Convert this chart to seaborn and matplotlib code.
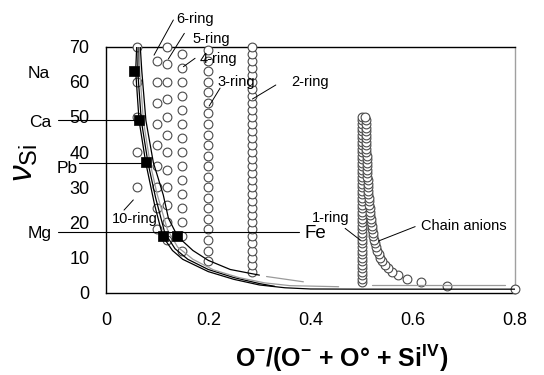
import matplotlib
matplotlib.use("Agg")
import matplotlib.pyplot as plt
import seaborn as sns
import pandas as pd

# ---------------- data ----------------
# ring anion columns: x position and nu_Si values
ring_names = ["1-ring", "2-ring", "3-ring", "4-ring", "5-ring", "6-ring", "10-ring"]
ring_x = [0.5, 0.286, 0.2, 0.149, 0.12, 0.099, 0.061]
ring1_y = [3, 4, 5, 6, 7, 8, 9, 10, 11, 12, 13, 14, 15, 16, 17, 18, 19, 20, 21, 22, 23, 24,
           25, 26, 27, 28, 29, 30, 31, 32, 33, 34, 35, 36, 37, 38, 39, 40, 41, 42, 43, 44,
           45, 46, 47, 48, 49, 50]
ring2_y = [6, 8, 10, 12, 14, 16, 18, 20, 22, 24, 26, 28, 30, 32, 34, 36, 38, 40, 42, 44,
           46, 48, 50, 52, 54, 56, 58, 60, 62, 64, 66, 68, 70]
ring3_y = [9, 12, 15, 18, 21, 24, 27, 30, 33, 36, 39, 42, 45, 48, 51, 54, 57, 60, 63, 66, 69]
ring4_y = [12, 16, 20, 24, 28, 32, 36, 40, 44, 48, 52, 56, 60, 64, 68]
ring5_y = [15, 20, 25, 30, 35, 40, 45, 50, 55, 60, 65, 70]
ring6_y = [18, 24, 30, 36, 42, 48, 54, 60, 66]
ring10_y = [30, 40, 50, 60, 70]
ring_y = [ring1_y, ring2_y, ring3_y, ring4_y, ring5_y, ring6_y, ring10_y]

# chain anions
chain_x = [0.8, 0.6667, 0.6154, 0.5882, 0.5714, 0.56, 0.5517, 0.5455, 0.5405, 0.5366,
           0.5333, 0.5306, 0.5283, 0.5263, 0.5246, 0.5231, 0.5217, 0.5205, 0.5195, 0.5185,
           0.5176, 0.5169, 0.5161, 0.5155, 0.5149, 0.5143, 0.5138, 0.5133, 0.5128, 0.5124,
           0.512, 0.5116, 0.5113, 0.5109, 0.5106, 0.5103, 0.5101, 0.5098, 0.5096, 0.5093,
           0.5091, 0.5089, 0.5087, 0.5085, 0.5083, 0.5081, 0.5079, 0.5078, 0.5076, 0.5075]
chain_y = [1, 2, 3, 4, 5, 6, 7, 8, 9, 10, 11, 12, 13, 14, 15, 16, 17, 18, 19, 20, 21, 22,
           23, 24, 25, 26, 27, 28, 29, 30, 31, 32, 33, 34, 35, 36, 37, 38, 39, 40, 41, 42,
           43, 44, 45, 46, 47, 48, 49, 50]

# cation model curves
curve1_x = [0.06, 0.058, 0.0646, 0.0777, 0.095, 0.111, 0.13, 0.15, 0.2, 0.25, 0.3, 0.35, 0.4, 0.5, 0.8]
curve1_y = [70, 63, 49, 37, 25, 16, 12, 9.5, 6.0, 3.8, 2.2, 1.4, 1.05, 1.0, 1.0]
curve2_x = [0.063, 0.062, 0.069, 0.082, 0.097, 0.115, 0.135, 0.16, 0.2, 0.25, 0.3, 0.33]
curve2_y = [70, 63, 49, 37, 27, 17, 12.5, 9.5, 6.6, 4.3, 2.6, 1.8]
curve3_x = [0.065, 0.066, 0.073, 0.086, 0.1, 0.12, 0.14, 0.17, 0.21, 0.26, 0.31, 0.36, 0.455]
curve3_y = [70, 63, 49, 37, 28, 18, 13, 9.5, 6.5, 4.3, 2.8, 2.0, 1.7]
curve4_x = [0.067, 0.07, 0.078, 0.0926, 0.099, 0.112, 0.122, 0.14, 0.17, 0.2, 0.243, 0.282, 0.3]
curve4_y = [70, 63, 49, 37, 34, 27.8, 21.2, 16, 12, 9.2, 6.6, 5.5, 5.0]
curve5a_x = [0.314, 0.386]
curve5a_y = [4.6, 3.1]
curve5b_x = [0.52, 0.78]
curve5b_y = [2.2, 2.2]

# cations (filled squares)
elements = ["Na", "Ca", "Pb", "Mg", "Fe"]
elem_x = [0.0554, 0.0646, 0.0777, 0.111, 0.1396]
elem_y = [63.2, 49.1, 37.1, 16.1, 16.1]

xticks = [0, 0.2, 0.4, 0.6, 0.8]
xticklabels = ["0", "0.2", "0.4", "0.6", "0.8"]
yticks = [0, 10, 20, 30, 40, 50, 60, 70]

# ---------------- frames ----------------
pts = []
for name, x, ys in zip(ring_names, ring_x, ring_y):
    for y in ys:
        pts.append({"series": name, "x": x, "y": y})
for x, y in zip(chain_x, chain_y):
    pts.append({"series": "Chain anions", "x": x, "y": y})
circles = pd.DataFrame(pts)

curves = []
for cid, (xs, ys) in enumerate([(curve1_x, curve1_y), (curve2_x, curve2_y), (curve3_x, curve3_y),
                                 (curve4_x, curve4_y), (curve5a_x, curve5a_y), (curve5b_x, curve5b_y)]):
    for i, (x, y) in enumerate(zip(xs, ys)):
        curves.append({"curve": f"c{cid}", "x": x, "y": y, "order": i})
curves = pd.DataFrame(curves)
curve_palette = {"c0": "black", "c1": "black", "c2": "#9a9a9a", "c3": "black",
                 "c4": "#9a9a9a", "c5": "#9a9a9a"}

squares = pd.DataFrame({"element": elements, "x": elem_x, "y": elem_y})

# ---------------- style ----------------
sns.set_style("white")
plt.rcParams["font.family"] = ["Liberation Sans", "DejaVu Sans"]
plt.rcParams["text.color"] = "black"
plt.rcParams["axes.labelcolor"] = "black"
plt.rcParams["xtick.color"] = "black"
plt.rcParams["ytick.color"] = "black"
plt.rcParams["mathtext.fontset"] = "custom"
plt.rcParams["mathtext.rm"] = "Liberation Sans"
plt.rcParams["mathtext.it"] = "Liberation Sans:italic"
plt.rcParams["mathtext.bf"] = "Liberation Sans:bold"
plt.rcParams["mathtext.default"] = "regular"

fig = plt.figure(figsize=(5.44, 3.75), dpi=100)
ax = fig.add_axes([0.1949, 0.2195, 0.7518, 0.656])

sns.scatterplot(data=circles, x="x", y="y", ax=ax, marker="o", s=40, color="white",
                edgecolor="#4a4a4a", linewidth=0.8, legend=False, zorder=3, clip_on=False)
sns.lineplot(data=curves, x="x", y="y", hue="curve", units="curve", palette=curve_palette,
             sort=False, estimator=None, ax=ax, legend=False, linewidth=0.9, zorder=4)
sns.scatterplot(data=squares, x="x", y="y", ax=ax, marker="s", s=42, color="black",
                edgecolor="black", linewidth=0.5, legend=False, zorder=6, clip_on=False)

ax.set_xlim(0, 0.8)
ax.set_ylim(0, 70)
ax.set_xticks(xticks)
ax.set_xticklabels(xticklabels)
ax.set_yticks(yticks)
ax.tick_params(axis="x", direction="out", length=5, width=1, pad=9, labelsize=13,
               colors="black")
ax.tick_params(axis="y", direction="out", length=6, width=1, pad=6, labelsize=13,
               colors="black")

for side in ["left", "bottom", "top"]:
    ax.spines[side].set_color("black")
    ax.spines[side].set_linewidth(1)
ax.spines["right"].set_color("#a0a0a0")
ax.spines["right"].set_linewidth(1)

ax.set_xlabel(r"O$^{-}$/(O$^{-}$ + O° + Si$^{IV}$)", fontsize=18, fontweight="bold",
              color="black")
ax.xaxis.set_label_coords(0.577, -0.265)
ax.xaxis.label.set_verticalalignment("center")
ax.set_ylabel(r"$\mathit{\nu}_{\mathrm{Si}}$", fontsize=24, color="black")
ax.yaxis.set_label_coords(-0.2, 0.527)
ax.yaxis.label.set_verticalalignment("center")

# ring labels with leader lines (layout positions)
ring_label_pos = {
    "6-ring": ((0.1364, 78.4), (0.1317, 77.6), (0.0939, 67.6)),
    "5-ring": ((0.1697, 72.7), (0.1532, 73.8), (0.1219, 66.5)),
    "4-ring": ((0.184, 67.0), (0.1742, 66.7), (0.1513, 64.3)),
    "3-ring": ((0.2178, 60.5), (0.2231, 58.2), (0.2016, 53.1)),
    "2-ring": ((0.362, 60.5), (0.3321, 59.1), (0.2863, 55.1)),
    "1-ring": ((0.4025, 21.6), (0.4677, 18.3), (0.4971, 15.0)),
    "Chain anions": ((0.6164, 19.5), (0.6047, 18.8), (0.5329, 14.7)),
    "10-ring": ((0.0112, 21.3), (0.0534, 26.4), (0.0352, 23.5)),
}
for name, (tpos, l0, l1) in ring_label_pos.items():
    ax.plot([l0[0], l1[0]], [l0[1], l1[1]], color="black", lw=0.7, clip_on=False, zorder=5)
    ax.text(tpos[0], tpos[1], name, fontsize=10.5, ha="left", va="center_baseline",
            color="black", clip_on=False, zorder=7)

# cation labels
elem_label_pos = {"Na": (-0.1311, 62.9), "Ca": (-0.1292, 48.9), "Pb": (-0.0753, 35.9),
                  "Mg": (-0.1292, 17.4), "Fe": (0.409, 17.4)}
for el, (tx, ty) in elem_label_pos.items():
    ax.text(tx, ty, el, fontsize=13.5 if el == "Fe" else 12.5, ha="center",
            va="center_baseline", color="black", clip_on=False, zorder=7)
sq = dict(zip(elements, zip(elem_x, elem_y)))
ax.plot([-0.094, sq["Ca"][0]], [sq["Ca"][1], sq["Ca"][1]], color="black", lw=0.8,
        clip_on=False, zorder=5)
ax.plot([-0.0528, sq["Pb"][0]], [36.9, 36.9], color="black", lw=0.8, clip_on=False, zorder=5)
ax.plot([-0.094, 0.3777], [17.3, 17.3], color="black", lw=0.8, clip_on=False, zorder=5)

fig.savefig("out.png", dpi=100)
